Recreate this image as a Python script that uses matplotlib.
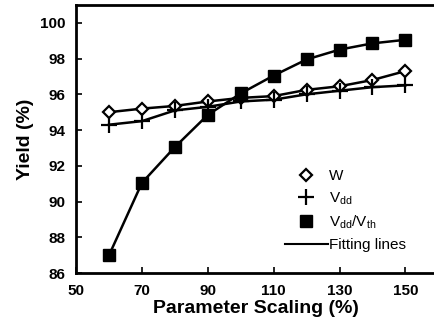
import matplotlib.pyplot as plt
from matplotlib.lines import Line2D

# Data
scaling = [60, 70, 80, 90, 100, 110, 120, 130, 140, 150]
yield_w = [95.0, 95.2, 95.35, 95.6, 95.8, 95.9, 96.25, 96.45, 96.8, 97.3]
yield_vdd = [94.3, 94.5, 95.1, 95.3, 95.6, 95.7, 96.0, 96.2, 96.4, 96.5]
yield_vdd_vth = [87.0, 91.05, 93.05, 94.85, 96.05, 97.05, 97.95, 98.5, 98.85, 99.05]

x_ticks = [50, 70, 90, 110, 130, 150]
y_ticks = [86, 88, 90, 92, 94, 96, 98, 100]

plt.rcParams['font.family'] = ['Liberation Sans', 'DejaVu Sans']
plt.rcParams['mathtext.fontset'] = 'custom'
plt.rcParams['mathtext.rm'] = 'Liberation Sans'

fig = plt.figure(figsize=(4.35, 3.29), dpi=100)
ax = fig.add_axes([0.175, 0.170, 0.825, 0.815])

# Fitting lines
ax.plot(scaling, yield_w, color='black', lw=1.8)
ax.plot(scaling, yield_vdd, color='black', lw=1.8)
ax.plot(scaling, yield_vdd_vth, color='black', lw=1.8)

# Markers
ax.plot(scaling, yield_w, ls='none', marker='D', ms=6, mfc='white', mec='black', mew=1.6)
ax.plot(scaling, yield_vdd, ls='none', marker='+', ms=11, mec='black', mew=1.6)
ax.plot(scaling, yield_vdd_vth, ls='none', marker='s', ms=8.5, mfc='black', mec='black')

ax.set_xlim(50, 159)
ax.set_ylim(86, 101)
ax.set_xticks(x_ticks)
ax.set_yticks(y_ticks)
ax.tick_params(direction='in', length=4, width=1.2, labelsize=11, pad=8)
for lab in ax.get_xticklabels() + ax.get_yticklabels():
    lab.set_fontweight('bold')
ax.spines['right'].set_visible(False)
for s in ['left', 'bottom', 'top']:
    ax.spines[s].set_linewidth(2)

ax.set_xlabel('Parameter Scaling (%)', fontsize=14, fontweight='bold', labelpad=1)
ax.set_ylabel('Yield (%)', fontsize=14, fontweight='bold', labelpad=4)

handles = [
    Line2D([], [], ls='none', marker='D', ms=6, mfc='white', mec='black', mew=1.6),
    Line2D([], [], ls='none', marker='+', ms=11, mec='black', mew=1.6),
    Line2D([], [], ls='none', marker='s', ms=8, mfc='black', mec='black'),
    Line2D([], [], color='black', lw=1.5),
]
labels = ['W', r'V$_{\rm dd}$', r'V$_{\rm dd}$/V$_{\rm th}$', 'Fitting lines']
ax.legend(handles, labels, loc='upper left', bbox_to_anchor=(0.565, 0.41),
          frameon=False, fontsize=11, handlelength=2.8, handletextpad=0.1,
          labelspacing=0.45, borderaxespad=0)

fig.savefig('out.png', dpi=100)
